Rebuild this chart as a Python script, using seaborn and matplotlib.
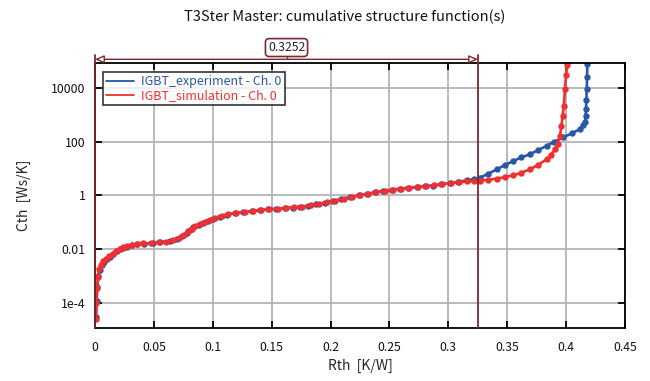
import numpy as np
import pandas as pd
import matplotlib
matplotlib.use("Agg")
import matplotlib.pyplot as plt
from matplotlib.lines import Line2D
from matplotlib.ticker import FixedLocator, FixedFormatter
import matplotlib.transforms as mtransforms
import seaborn as sns

# ---------------- data ----------------
rth_exp = [0.0009, 0.0014, 0.0020, 0.0028, 0.0040, 0.0057, 0.0077, 0.0099, 0.0125, 0.0155,
           0.0185, 0.0212, 0.0240, 0.0269, 0.031, 0.0354, 0.042, 0.0495, 0.055, 0.0637,
           0.0694, 0.074, 0.0779, 0.0808, 0.0835, 0.088, 0.092, 0.0962, 0.1004, 0.106,
           0.1118, 0.119, 0.126, 0.133, 0.140, 0.147, 0.154, 0.161, 0.168, 0.174,
           0.181, 0.188, 0.195, 0.2023, 0.209, 0.2165, 0.224, 0.2307, 0.238, 0.2448,
           0.252, 0.259, 0.266, 0.273, 0.280, 0.287, 0.294, 0.3014, 0.308, 0.3156,
           0.3215, 0.3269, 0.334, 0.341, 0.348, 0.3552, 0.362, 0.3693, 0.376, 0.3835,
           0.390, 0.3976, 0.405, 0.4118, 0.4145, 0.416, 0.4165, 0.4169, 0.4172, 0.4175,
           0.4178, 0.418]
cth_exp = [3.0e-5, 1.2e-4, 4.0e-4, 1.0e-3, 1.7e-3, 2.6e-3, 3.4e-3, 4.2e-3, 5.2e-3, 6.5e-3,
           8.3e-3, 1.0e-2, 1.12e-2, 1.22e-2, 1.38e-2, 1.52e-2, 1.6e-2, 1.66e-2, 1.8e-2, 2.0e-2,
           2.4e-2, 3.0e-2, 4.0e-2, 5.2e-2, 6.6e-2, 8.0e-2, 9.4e-2, 0.113, 0.133, 0.162,
           0.192, 0.218, 0.238, 0.258, 0.278, 0.298, 0.316, 0.332, 0.35, 0.37,
           0.41, 0.46, 0.53, 0.61, 0.72, 0.85, 0.99, 1.13, 1.29, 1.43,
           1.60, 1.76, 1.90, 2.02, 2.17, 2.32, 2.55, 2.85, 3.2, 3.6,
           4.0, 4.6, 6.4, 9.2, 13.5, 19, 26, 34, 48, 70,
           100, 145, 205, 295, 400, 530, 900, 1650, 3500, 9000,
           25000, 80000]

rth_sim = [0.0008, 0.0012, 0.0018, 0.0026, 0.0037, 0.0052, 0.0072, 0.0095, 0.0120, 0.0150,
           0.0180, 0.0210, 0.0240, 0.0272, 0.031, 0.0355, 0.041, 0.0475, 0.054, 0.060,
           0.066, 0.0710, 0.0755, 0.0790, 0.0820, 0.0850, 0.089, 0.093, 0.0975, 0.102,
           0.1075, 0.113, 0.120, 0.127, 0.134, 0.141, 0.148, 0.155, 0.162, 0.169,
           0.176, 0.183, 0.190, 0.197, 0.204, 0.211, 0.218, 0.225, 0.232, 0.239,
           0.246, 0.253, 0.260, 0.267, 0.274, 0.281, 0.288, 0.295, 0.302, 0.309,
           0.316, 0.322, 0.327, 0.334, 0.341, 0.348, 0.3552, 0.362, 0.3693, 0.376,
           0.3835, 0.387, 0.3906, 0.393, 0.3948, 0.396, 0.3971, 0.398, 0.399, 0.400,
           0.401]
cth_sim = [2.5e-5, 1.0e-4, 3.5e-4, 9.0e-4, 1.8e-3, 2.6e-3, 3.5e-3, 4.4e-3, 5.4e-3, 6.8e-3,
           8.6e-3, 1.05e-2, 1.17e-2, 1.28e-2, 1.42e-2, 1.56e-2, 1.63e-2, 1.68e-2, 1.78e-2, 1.86e-2,
           2.1e-2, 2.6e-2, 3.4e-2, 4.6e-2, 5.8e-2, 7.0e-2, 8.4e-2, 9.9e-2, 0.118, 0.141,
           0.170, 0.198, 0.225, 0.245, 0.265, 0.285, 0.305, 0.322, 0.34, 0.358,
           0.38, 0.42, 0.48, 0.55, 0.64, 0.75, 0.88, 1.02, 1.17, 1.32,
           1.48, 1.64, 1.80, 1.94, 2.06, 2.20, 2.36, 2.58, 2.88, 3.1,
           3.3, 3.4, 3.5, 3.8, 4.2, 4.8, 5.6, 7.0, 9.3, 13.5,
           22, 32, 52, 85, 166, 380, 930, 2200, 9300, 30000,
           70000]

series_names = ["IGBT_experiment - Ch. 0", "IGBT_simulation - Ch. 0"]
series_colors = ["#2a56a8", "#f03030"]

x_ticks = [0, 0.05, 0.1, 0.15, 0.2, 0.25, 0.3, 0.35, 0.4, 0.45]
x_labels = ["0", "0.05", "0.1", "0.15", "0.2", "0.25", "0.3", "0.35", "0.4", "0.45"]
y_ticks = [1e-4, 1e-2, 1, 100, 10000]
y_labels = ["1e-4", "0.01", "1", "100", "10000"]
cursor_value = 0.3252
cursor_label = "0.3252"

df = pd.concat([
    pd.DataFrame({"Rth": rth_exp, "Cth": cth_exp, "series": series_names[0]}),
    pd.DataFrame({"Rth": rth_sim, "Cth": cth_sim, "series": series_names[1]}),
], ignore_index=True)

# ---------------- plot ----------------
sns.set_theme(style="white")
plt.rcParams["font.family"] = ["Noto Sans CJK JP", "DejaVu Sans"]

fig = plt.figure(figsize=(6.5, 3.81), dpi=100)
ax = fig.add_axes([95 / 650, 1 - 328.3 / 381, 530 / 650, 265.6 / 381])

sns.lineplot(data=df, x="Rth", y="Cth", hue="series", palette=dict(zip(series_names, series_colors)),
             estimator=None, sort=False, marker="o", markersize=4.6, markeredgewidth=0,
             linewidth=1.9, ax=ax, legend=False)

ax.set_yscale("log")
ax.set_xlim(0, 0.45)
ax.set_ylim(10 ** -4.95, 10 ** 4.94)

ax.xaxis.set_major_locator(FixedLocator(x_ticks))
ax.xaxis.set_major_formatter(FixedFormatter(x_labels))
ax.yaxis.set_major_locator(FixedLocator(y_ticks))
ax.yaxis.set_major_formatter(FixedFormatter(y_labels))
ax.yaxis.set_minor_locator(FixedLocator([]))

ax.grid(True, which="major", color="#b4b4b4", linewidth=1.3)
ax.set_axisbelow(True)
for s in ax.spines.values():
    s.set_color("black")
    s.set_linewidth(1.3)
ax.tick_params(axis="both", which="major", direction="in", length=5, width=1.3, color="black",
               top=True, right=True, bottom=True, left=True, labelsize=8.8, labelcolor="#111111")
ax.tick_params(axis="x", pad=9)
ax.tick_params(axis="y", pad=7)

ax.set_xlabel("Rth  [K/W]", fontsize=10, labelpad=4)
ax.set_ylabel("Cth  [Ws/K]", fontsize=10, labelpad=14)
fig.text(345 / 650, 1 - 17 / 381, "T3Ster Master: cumulative structure function(s)",
         fontsize=10.5, ha="center", va="center", color="#111111")

# cursor lines and dimension
maroon = "#7a2a2e"
trans = mtransforms.blended_transform_factory(ax.transData, ax.transAxes)
for xv in [0, cursor_value]:
    ax.plot([xv, xv], [0, 1.03], transform=trans, color=maroon, lw=1.3, clip_on=False, zorder=5)
ax.annotate("", xy=(0, 1.0128), xytext=(cursor_value, 1.0128), xycoords=trans, textcoords=trans,
            arrowprops=dict(arrowstyle="<|-|>,head_length=0.45,head_width=0.2", color=maroon,
                            fc="white", lw=1.0, shrinkA=0, shrinkB=0), annotation_clip=False)
ax.plot([cursor_value / 2, cursor_value / 2], [1.0128, 1.03], transform=trans, color=maroon,
        lw=1.0, clip_on=False)
ax.text(cursor_value / 2, 1.057, cursor_label, transform=trans, ha="center", va="center", fontsize=8.8,
        bbox=dict(boxstyle="round,pad=0.2,rounding_size=0.3", fc="white", ec=maroon, lw=1.2))

# legend
handles = [Line2D([], [], color=c, lw=1.3) for c in series_colors]
leg = ax.legend(handles, series_names, loc="upper left", bbox_to_anchor=(0.015, 0.965),
                borderaxespad=0, frameon=True, fancybox=False, fontsize=9, handlelength=2.2,
                handletextpad=0.6, borderpad=0.25, labelspacing=0.1)
leg.get_frame().set_edgecolor("black")
leg.get_frame().set_linewidth(1.2)
for t, c in zip(leg.get_texts(), series_colors):
    t.set_color(c)

fig.savefig("out.png", dpi=100)
